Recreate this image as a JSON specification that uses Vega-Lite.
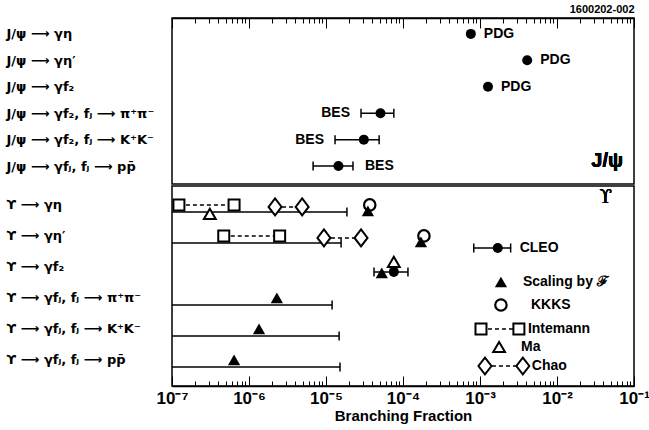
{
  "$schema": "https://vega.github.io/schema/vega-lite/v6.json",
  "padding": {"left": 5, "top": 2, "right": 2, "bottom": 2},
  "config": {
    "view": {"stroke": "black", "strokeWidth": 1.5},
    "font": "Liberation Sans",
    "axis": {"grid": false}
  },
  "spacing": 0,
  "datasets": {
    "jpsi": [
      {"row": "J/ψ ⟶ γη", "bf": 7.6e-4, "src": "PDG"},
      {"row": "J/ψ ⟶ γη′", "bf": 4.1e-3, "src": "PDG"},
      {"row": "J/ψ ⟶ γf₂", "bf": 1.27e-3, "src": "PDG"},
      {"row": "J/ψ ⟶ γf₂, fⱼ ⟶ π⁺π⁻", "bf": 5.1e-5, "lo": 2.85e-5, "hi": 7.6e-5, "src": "BES"},
      {"row": "J/ψ ⟶ γf₂, fⱼ ⟶ K⁺K⁻", "bf": 3.1e-5, "lo": 1.31e-5, "hi": 4.9e-5, "src": "BES"},
      {"row": "J/ψ ⟶ γfⱼ, fⱼ ⟶ pp̄", "bf": 1.45e-5, "lo": 6.8e-6, "hi": 2.24e-5, "src": "BES"}
    ],
    "ul": [
      {"row": "ϒ ⟶ γη", "ul": 1.87e-5},
      {"row": "ϒ ⟶ γη′", "ul": 1.57e-5},
      {"row": "ϒ ⟶ γfⱼ, fⱼ ⟶ π⁺π⁻", "ul": 1.2e-5},
      {"row": "ϒ ⟶ γfⱼ, fⱼ ⟶ K⁺K⁻", "ul": 1.48e-5},
      {"row": "ϒ ⟶ γfⱼ, fⱼ ⟶ pp̄", "ul": 1.52e-5}
    ],
    "scaling": [
      {"row": "ϒ ⟶ γη", "bf": 3.5e-5},
      {"row": "ϒ ⟶ γη′", "bf": 1.71e-4},
      {"row": "ϒ ⟶ γf₂", "bf": 5.3e-5},
      {"row": "ϒ ⟶ γfⱼ, fⱼ ⟶ π⁺π⁻", "bf": 2.3e-6},
      {"row": "ϒ ⟶ γfⱼ, fⱼ ⟶ K⁺K⁻", "bf": 1.35e-6},
      {"row": "ϒ ⟶ γfⱼ, fⱼ ⟶ pp̄", "bf": 6.4e-7}
    ],
    "kkks": [
      {"row": "ϒ ⟶ γη", "bf": 3.7e-5},
      {"row": "ϒ ⟶ γη′", "bf": 1.87e-4}
    ],
    "intemann": [
      {"row": "ϒ ⟶ γη", "lo": 1.23e-7, "hi": 6.4e-7},
      {"row": "ϒ ⟶ γη′", "lo": 4.7e-7, "hi": 2.5e-6}
    ],
    "chao": [
      {"row": "ϒ ⟶ γη", "lo": 2.18e-6, "hi": 4.9e-6},
      {"row": "ϒ ⟶ γη′", "lo": 9.4e-6, "hi": 2.85e-5}
    ],
    "ma": [
      {"row": "ϒ ⟶ γη", "bf": 3.1e-7},
      {"row": "ϒ ⟶ γf₂", "bf": 7.6e-5}
    ],
    "cleo": [
      {"row": "ϒ ⟶ γf₂", "bf": 7.6e-5, "lo": 4.2e-5, "hi": 1.16e-4}
    ],
    "legend": [
      {"item": "CLEO", "slot": 3.1, "bf": 1.7e-3, "lo": 8.3e-4, "hi": 2.5e-3},
      {"item": "Scaling by ℱ", "slot": 4.8, "bf": 1.87e-3},
      {"item": "KKKS", "slot": 5.95, "bf": 1.87e-3},
      {"item": "Intemann", "slot": 7.15, "lo": 1.03e-3, "hi": 3.2e-3},
      {"item": "Ma", "slot": 8.05, "bf": 1.77e-3},
      {"item": "Chao", "slot": 9.0, "lo": 1.16e-3, "hi": 3.6e-3}
    ]
  },
  "vconcat": [
    {
      "width": 462,
      "height": 166,
      "title": {"text": "1600202-002", "anchor": "end", "fontSize": 11, "fontWeight": "bold", "offset": 3, "color": "black"},
      "data": {"name": "jpsi"},
      "resolve": {"axis": {"x": "independent"}},
      "encoding": {
        "y": {
          "field": "row", "type": "nominal",
          "scale": {"type": "point", "padding": 0.64, "align": 0.47,
            "domain": ["J/ψ ⟶ γη", "J/ψ ⟶ γη′", "J/ψ ⟶ γf₂", "J/ψ ⟶ γf₂, fⱼ ⟶ π⁺π⁻", "J/ψ ⟶ γf₂, fⱼ ⟶ K⁺K⁻", "J/ψ ⟶ γfⱼ, fⱼ ⟶ pp̄"]},
          "axis": {"title": null, "ticks": false, "domain": false, "labelAlign": "left", "labelPadding": 166, "labelFont": "DejaVu Sans", "labelFontSize": 13, "labelFontWeight": "bold", "labelColor": "black", "labelLimit": 0}
        }
      },
      "layer": [
        {
          "mark": {"type": "point", "shape": "circle", "filled": true, "color": "black", "size": 100, "opacity": 1},
          "encoding": {
            "x": {"field": "bf", "type": "quantitative",
              "scale": {"type": "log", "domain": [1e-7, 0.1], "nice": false},
              "axis": {"orient": "top", "values": [1e-7, 1e-6, 1e-5, 1e-4, 1e-3, 1e-2, 0.1],
                "labels": false, "title": null, "tickColor": "black", "tickWidth": 1, "tickSize": -10,
                "domainColor": "black", "domainWidth": 1.5}
            }
          }
        },
        {
          "transform": [{"filter": "isValid(datum.lo)"}],
          "mark": {"type": "rule", "color": "black", "strokeWidth": 1.5},
          "encoding": {
            "x": {"field": "lo", "type": "quantitative", "scale": {"type": "log", "domain": [1e-7, 0.1], "nice": false},
              "axis": {"orient": "top", "values": [2e-7,3e-7,4e-7,5e-7,6e-7,7e-7,8e-7,9e-7,2e-6,3e-6,4e-6,5e-6,6e-6,7e-6,8e-6,9e-6,2e-5,3e-5,4e-5,5e-5,6e-5,7e-5,8e-5,9e-5,2e-4,3e-4,4e-4,5e-4,6e-4,7e-4,8e-4,9e-4,2e-3,3e-3,4e-3,5e-3,6e-3,7e-3,8e-3,9e-3,2e-2,3e-2,4e-2,5e-2,6e-2,7e-2,8e-2,9e-2],
                "labels": false, "title": null, "domain": false, "tickColor": "black", "tickWidth": 1, "tickSize": -5}},
            "x2": {"field": "hi"}
          }
        },
        {
          "transform": [{"filter": "isValid(datum.lo)"}, {"fold": ["lo", "hi"], "as": ["end", "val"]}],
          "mark": {"type": "tick", "color": "black", "thickness": 1.5, "size": 9, "opacity": 1},
          "encoding": {
            "x": {"field": "val", "type": "quantitative", "scale": {"type": "log", "domain": [1e-7, 0.1], "nice": false}, "axis": null}
          }
        },
        {
          "transform": [{"filter": "datum.src == 'PDG'"}],
          "mark": {"type": "text", "align": "left", "dx": 13, "fontSize": 14, "fontWeight": "bold", "color": "black"},
          "encoding": {
            "x": {"field": "bf", "type": "quantitative", "scale": {"type": "log", "domain": [1e-7, 0.1], "nice": false}, "axis": null},
            "text": {"field": "src"}
          }
        },
        {
          "transform": [{"filter": "datum.src == 'BES' && indexof(datum.row, 'pp̄') < 0"}],
          "mark": {"type": "text", "align": "right", "dx": -11, "fontSize": 14, "fontWeight": "bold", "color": "black"},
          "encoding": {
            "x": {"field": "lo", "type": "quantitative", "scale": {"type": "log", "domain": [1e-7, 0.1], "nice": false}, "axis": null},
            "text": {"field": "src"}
          }
        },
        {
          "transform": [{"filter": "datum.src == 'BES' && indexof(datum.row, 'pp̄') >= 0"}],
          "mark": {"type": "text", "align": "left", "dx": 12, "fontSize": 14, "fontWeight": "bold", "color": "black"},
          "encoding": {
            "x": {"field": "hi", "type": "quantitative", "scale": {"type": "log", "domain": [1e-7, 0.1], "nice": false}, "axis": null},
            "text": {"field": "src"}
          }
        },
        {
          "mark": {"type": "text", "text": "J/ψ", "align": "right", "dy": -5, "fontSize": 20, "fontWeight": "bold", "color": "black"},
          "encoding": {
            "x": {"datum": 0.072, "type": "quantitative", "scale": {"type": "log", "domain": [1e-7, 0.1], "nice": false}, "axis": null},
            "y": {"datum": "J/ψ ⟶ γfⱼ, fⱼ ⟶ pp̄", "type": "nominal"}
          }
        }
      ]
    },
    {
      "width": 462,
      "height": 200,
      "resolve": {"scale": {"y": "independent"}, "axis": {"x": "independent", "y": "independent"}},
      "layer": [
        {
          "encoding": {
            "y": {
              "field": "row", "type": "nominal",
              "scale": {"type": "point", "padding": 0.726, "align": 0.42,
                "domain": ["ϒ ⟶ γη", "ϒ ⟶ γη′", "ϒ ⟶ γf₂", "ϒ ⟶ γfⱼ, fⱼ ⟶ π⁺π⁻", "ϒ ⟶ γfⱼ, fⱼ ⟶ K⁺K⁻", "ϒ ⟶ γfⱼ, fⱼ ⟶ pp̄"]},
              "axis": {"title": null, "ticks": false, "domain": false, "labelAlign": "left", "labelPadding": 166, "labelFont": "DejaVu Sans", "labelFontSize": 13, "labelFontWeight": "bold", "labelColor": "black", "labelLimit": 0}
            }
          },
          "layer": [
            {
              "data": {"name": "ul"},
              "mark": {"type": "rule", "color": "black", "strokeWidth": 1.5, "yOffset": 7},
              "encoding": {
                "x": {"field": "ul", "type": "quantitative", "scale": {"type": "log", "domain": [1e-7, 0.1], "nice": false}, "axis": null},
                "x2": {"datum": 1e-7}
              }
            },
            {
              "data": {"name": "ul"},
              "mark": {"type": "tick", "color": "black", "thickness": 1.5, "size": 9, "opacity": 1, "yOffset": 7},
              "encoding": {
                "x": {"field": "ul", "type": "quantitative", "scale": {"type": "log", "domain": [1e-7, 0.1], "nice": false}, "axis": null}
              }
            },
            {
              "data": {"name": "intemann"},
              "mark": {"type": "rule", "color": "black", "strokeWidth": 1.5, "strokeDash": [4, 3]},
              "encoding": {
                "x": {"field": "lo", "type": "quantitative", "scale": {"type": "log", "domain": [1e-7, 0.1], "nice": false}, "axis": null},
                "x2": {"field": "hi"}
              }
            },
            {
              "data": {"name": "intemann"},
              "transform": [{"fold": ["lo", "hi"], "as": ["end", "val"]}],
              "mark": {"type": "point", "shape": "square", "filled": true, "fill": "white", "stroke": "black", "strokeWidth": 2, "size": 121, "opacity": 1},
              "encoding": {
                "x": {"field": "val", "type": "quantitative", "scale": {"type": "log", "domain": [1e-7, 0.1], "nice": false}, "axis": null}
              }
            },
            {
              "data": {"name": "chao"},
              "mark": {"type": "rule", "color": "black", "strokeWidth": 1.5, "strokeDash": [4, 3], "yOffset": 2},
              "encoding": {
                "x": {"field": "lo", "type": "quantitative", "scale": {"type": "log", "domain": [1e-7, 0.1], "nice": false}, "axis": null},
                "x2": {"field": "hi"}
              }
            },
            {
              "data": {"name": "chao"},
              "transform": [{"fold": ["lo", "hi"], "as": ["end", "val"]}],
              "mark": {"type": "point", "shape": "M0,-1.3L1,0L0,1.3L-1,0Z", "filled": true, "fill": "white", "stroke": "black", "strokeWidth": 2, "size": 169, "opacity": 1, "yOffset": 2},
              "encoding": {
                "x": {"field": "val", "type": "quantitative", "scale": {"type": "log", "domain": [1e-7, 0.1], "nice": false}, "axis": null}
              }
            },
            {
              "data": {"name": "ma"},
              "transform": [{"filter": "datum.row == 'ϒ ⟶ γη'"}],
              "mark": {"type": "point", "shape": "triangle-up", "filled": true, "fill": "white", "stroke": "black", "strokeWidth": 2, "size": 140, "opacity": 1, "yOffset": 9},
              "encoding": {
                "x": {"field": "bf", "type": "quantitative", "scale": {"type": "log", "domain": [1e-7, 0.1], "nice": false}, "axis": null}
              }
            },
            {
              "data": {"name": "ma"},
              "transform": [{"filter": "datum.row != 'ϒ ⟶ γη'"}],
              "mark": {"type": "point", "shape": "triangle-up", "filled": true, "fill": "white", "stroke": "black", "strokeWidth": 2, "size": 140, "opacity": 1, "yOffset": -5},
              "encoding": {
                "x": {"field": "bf", "type": "quantitative", "scale": {"type": "log", "domain": [1e-7, 0.1], "nice": false}, "axis": null}
              }
            },
            {
              "data": {"name": "cleo"},
              "mark": {"type": "rule", "color": "black", "strokeWidth": 1.5, "yOffset": 5},
              "encoding": {
                "x": {"field": "lo", "type": "quantitative", "scale": {"type": "log", "domain": [1e-7, 0.1], "nice": false}, "axis": null},
                "x2": {"field": "hi"}
              }
            },
            {
              "data": {"name": "cleo"},
              "transform": [{"fold": ["lo", "hi"], "as": ["end", "val"]}],
              "mark": {"type": "tick", "color": "black", "thickness": 1.5, "size": 9, "opacity": 1, "yOffset": 5},
              "encoding": {
                "x": {"field": "val", "type": "quantitative", "scale": {"type": "log", "domain": [1e-7, 0.1], "nice": false}, "axis": null}
              }
            },
            {
              "data": {"name": "kkks"},
              "mark": {"type": "point", "shape": "circle", "filled": true, "fill": "white", "stroke": "black", "strokeWidth": 2.2, "size": 130, "opacity": 1},
              "encoding": {
                "x": {"field": "bf", "type": "quantitative", "scale": {"type": "log", "domain": [1e-7, 0.1], "nice": false}, "axis": null}
              }
            },
            {
              "data": {"name": "scaling"},
              "transform": [{"filter": "indexof(datum.row, 'fⱼ ⟶') < 0"}],
              "mark": {"type": "point", "shape": "triangle-up", "filled": true, "color": "black", "size": 150, "opacity": 1, "yOffset": 6},
              "encoding": {
                "x": {"field": "bf", "type": "quantitative", "scale": {"type": "log", "domain": [1e-7, 0.1], "nice": false}, "axis": null}
              }
            },
            {
              "data": {"name": "scaling"},
              "transform": [{"filter": "indexof(datum.row, 'fⱼ ⟶') >= 0"}],
              "mark": {"type": "point", "shape": "triangle-up", "filled": true, "color": "black", "size": 150, "opacity": 1},
              "encoding": {
                "x": {"field": "bf", "type": "quantitative", "scale": {"type": "log", "domain": [1e-7, 0.1], "nice": false}, "axis": null}
              }
            },
            {
              "data": {"name": "cleo"},
              "mark": {"type": "point", "shape": "circle", "filled": true, "color": "black", "size": 100, "opacity": 1, "yOffset": 5},
              "encoding": {
                "x": {"field": "bf", "type": "quantitative", "scale": {"type": "log", "domain": [1e-7, 0.1], "nice": false}, "axis": null}
              }
            }
          ]
        },
        {
          "data": {"name": "legend"},
          "encoding": {
            "y": {"field": "slot", "type": "quantitative", "scale": {"domain": [0, 10], "reverse": true, "nice": false, "zero": false}, "axis": null}
          },
          "layer": [
            {
              "transform": [{"filter": "datum.item == 'CLEO'"}],
              "mark": {"type": "rule", "color": "black", "strokeWidth": 1.5},
              "encoding": {
                "x": {"field": "lo", "type": "quantitative", "scale": {"type": "log", "domain": [1e-7, 0.1], "nice": false},
                  "axis": {"orient": "top", "ticks": false, "labels": false, "title": null, "domainColor": "#8c8c8c", "domainWidth": 4}},
                "x2": {"field": "hi"}
              }
            },
            {
              "transform": [{"filter": "datum.item == 'CLEO'"}, {"fold": ["lo", "hi"], "as": ["end", "val"]}],
              "mark": {"type": "tick", "orient": "vertical", "color": "black", "thickness": 1.5, "size": 9, "opacity": 1},
              "encoding": {
                "x": {"field": "val", "type": "quantitative", "scale": {"type": "log", "domain": [1e-7, 0.1], "nice": false}, "axis": null}
              }
            },
            {
              "transform": [{"filter": "datum.item == 'CLEO'"}],
              "mark": {"type": "point", "shape": "circle", "filled": true, "color": "black", "size": 100, "opacity": 1},
              "encoding": {
                "x": {"field": "bf", "type": "quantitative", "scale": {"type": "log", "domain": [1e-7, 0.1], "nice": false}, "axis": null}
              }
            },
            {
              "transform": [{"filter": "datum.item == 'Scaling by ℱ'"}],
              "mark": {"type": "point", "shape": "triangle-up", "filled": true, "color": "black", "size": 150, "opacity": 1},
              "encoding": {
                "x": {"field": "bf", "type": "quantitative", "scale": {"type": "log", "domain": [1e-7, 0.1], "nice": false}, "axis": null}
              }
            },
            {
              "transform": [{"filter": "datum.item == 'KKKS'"}],
              "mark": {"type": "point", "shape": "circle", "filled": true, "fill": "white", "stroke": "black", "strokeWidth": 2.2, "size": 130, "opacity": 1},
              "encoding": {
                "x": {"field": "bf", "type": "quantitative", "scale": {"type": "log", "domain": [1e-7, 0.1], "nice": false}, "axis": null}
              }
            },
            {
              "transform": [{"filter": "datum.item == 'Ma'"}],
              "mark": {"type": "point", "shape": "triangle-up", "filled": true, "fill": "white", "stroke": "black", "strokeWidth": 2, "size": 140, "opacity": 1},
              "encoding": {
                "x": {"field": "bf", "type": "quantitative", "scale": {"type": "log", "domain": [1e-7, 0.1], "nice": false}, "axis": null}
              }
            },
            {
              "transform": [{"filter": "datum.item == 'Intemann' || datum.item == 'Chao'"}],
              "mark": {"type": "rule", "color": "black", "strokeWidth": 1.5, "strokeDash": [4, 3]},
              "encoding": {
                "x": {"field": "lo", "type": "quantitative", "scale": {"type": "log", "domain": [1e-7, 0.1], "nice": false}, "axis": null},
                "x2": {"field": "hi"}
              }
            },
            {
              "transform": [{"filter": "datum.item == 'Intemann'"}, {"fold": ["lo", "hi"], "as": ["end", "val"]}],
              "mark": {"type": "point", "shape": "square", "filled": true, "fill": "white", "stroke": "black", "strokeWidth": 2, "size": 121, "opacity": 1},
              "encoding": {
                "x": {"field": "val", "type": "quantitative", "scale": {"type": "log", "domain": [1e-7, 0.1], "nice": false}, "axis": null}
              }
            },
            {
              "transform": [{"filter": "datum.item == 'Chao'"}, {"fold": ["lo", "hi"], "as": ["end", "val"]}],
              "mark": {"type": "point", "shape": "M0,-1.3L1,0L0,1.3L-1,0Z", "filled": true, "fill": "white", "stroke": "black", "strokeWidth": 2, "size": 169, "opacity": 1},
              "encoding": {
                "x": {"field": "val", "type": "quantitative", "scale": {"type": "log", "domain": [1e-7, 0.1], "nice": false}, "axis": null}
              }
            },
            {
              "transform": [{"filter": "isValid(datum.hi)"}],
              "mark": {"type": "text", "align": "left", "dx": 9, "fontSize": 14, "fontWeight": "bold", "color": "black"},
              "encoding": {
                "x": {"field": "hi", "type": "quantitative", "scale": {"type": "log", "domain": [1e-7, 0.1], "nice": false}, "axis": null},
                "text": {"field": "item"}
              }
            },
            {
              "transform": [{"filter": "datum.item == 'Scaling by ℱ' || datum.item == 'Ma'"}],
              "mark": {"type": "text", "align": "left", "dx": 22, "fontSize": 14, "fontWeight": "bold", "color": "black"},
              "encoding": {
                "x": {"field": "bf", "type": "quantitative", "scale": {"type": "log", "domain": [1e-7, 0.1], "nice": false}, "axis": null},
                "text": {"field": "item"}
              }
            },
            {
              "transform": [{"filter": "datum.item == 'KKKS'"}],
              "mark": {"type": "text", "align": "left", "dx": 30, "fontSize": 14, "fontWeight": "bold", "color": "black"},
              "encoding": {
                "x": {"field": "bf", "type": "quantitative", "scale": {"type": "log", "domain": [1e-7, 0.1], "nice": false}, "axis": null},
                "text": {"field": "item"}
              }
            },
            {
              "mark": {"type": "text", "text": "ϒ", "align": "center", "font": "DejaVu Serif", "fontSize": 18, "color": "black"},
              "encoding": {
                "x": {"datum": 0.043, "type": "quantitative", "scale": {"type": "log", "domain": [1e-7, 0.1], "nice": false}, "axis": null},
                "y": {"datum": 0.6, "type": "quantitative"}
              }
            }
          ]
        },
        {
          "data": {"name": "ul"},
          "mark": {"type": "point", "opacity": 0},
          "encoding": {
            "x": {"field": "ul", "type": "quantitative", "scale": {"type": "log", "domain": [1e-7, 0.1], "nice": false},
              "axis": {"orient": "bottom", "values": [1e-7, 1e-6, 1e-5, 1e-4, 1e-3, 1e-2, 0.1],
                "labelExpr": "datum.value < 5e-7 ? '10⁻⁷' : datum.value < 5e-6 ? '10⁻⁶' : datum.value < 5e-5 ? '10⁻⁵' : datum.value < 5e-4 ? '10⁻⁴' : datum.value < 5e-3 ? '10⁻³' : datum.value < 5e-2 ? '10⁻²' : '10⁻¹'",
                "labelOverlap": false, "labelFlush": false, "labelPadding": 14, "labelFontSize": 17, "labelFontWeight": "bold", "labelColor": "black",
                "tickColor": "black", "tickWidth": 1, "tickSize": -10,
                "domainColor": "black", "domainWidth": 1.5,
                "title": "Branching Fraction", "titleFontSize": 15, "titleFontWeight": "bold", "titleColor": "black", "titlePadding": 2}
            },
            "y": {"field": "ul", "type": "quantitative", "axis": null}
          }
        },
        {
          "data": {"name": "ul"},
          "mark": {"type": "point", "opacity": 0},
          "encoding": {
            "x": {"field": "ul", "type": "quantitative", "scale": {"type": "log", "domain": [1e-7, 0.1], "nice": false},
              "axis": {"orient": "bottom", "values": [2e-7,3e-7,4e-7,5e-7,6e-7,7e-7,8e-7,9e-7,2e-6,3e-6,4e-6,5e-6,6e-6,7e-6,8e-6,9e-6,2e-5,3e-5,4e-5,5e-5,6e-5,7e-5,8e-5,9e-5,2e-4,3e-4,4e-4,5e-4,6e-4,7e-4,8e-4,9e-4,2e-3,3e-3,4e-3,5e-3,6e-3,7e-3,8e-3,9e-3,2e-2,3e-2,4e-2,5e-2,6e-2,7e-2,8e-2,9e-2],
                "labels": false, "title": null, "domain": false, "tickColor": "black", "tickWidth": 1, "tickSize": -5}},
            "y": {"field": "ul", "type": "quantitative", "axis": null}
          }
        }
      ]
    }
  ]
}
